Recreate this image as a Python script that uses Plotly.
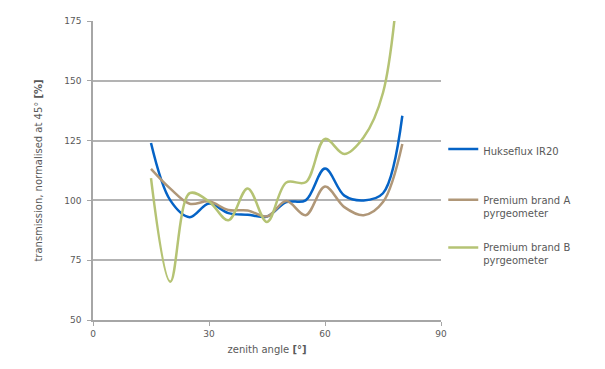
import plotly.graph_objects as go

angles = [15, 20, 25, 30, 35, 40, 45, 50, 55, 60, 65, 70, 75, 80]
hukseflux = [124, 100, 93, 98.7, 94.7, 94, 93.3, 99.3, 100, 113.3, 102, 100, 103, 135.4]
brand_a = [113.2, 104.9, 98.6, 99.6, 96, 95.8, 93.3, 99.7, 93.8, 105.8, 97.2, 93.8, 99.3, 123.6]
brand_b = [109.3, 66, 103, 99.6, 91.7, 105, 91, 107.5, 107.6, 125.7, 119.4, 126.4, 145, 212]

names = ["Hukseflux IR20", "Premium brand A<br>pyrgeometer", "Premium brand B<br>pyrgeometer"]
colors = ["#0563C6", "#B09778", "#B5C374"]
series = [hukseflux, brand_a, brand_b]
legends = ["legend", "legend2", "legend3"]

font = "Verdana, DejaVu Sans, sans-serif"
fig = go.Figure()
for nm, col, ys, lg in zip(names, colors, series, legends):
    fig.add_trace(go.Scatter(x=angles, y=ys, mode="lines", name=nm, showlegend=True,
                             line=dict(color=col, width=2.5, shape="spline", smoothing=1.0),
                             legend=lg))

leg_common = dict(font=dict(family=font, size=10, color="#595959"), bgcolor="rgba(0,0,0,0)",
                  xanchor="left", yanchor="top", valign="top", itemwidth=30,
                  tracegroupgap=0, visible=True)
ys_leg = [0.615, 0.446, 0.286]
layout_legs = {}
for lg, yy in zip(legends, ys_leg):
    layout_legs[lg] = dict(leg_common, x=1.0065, y=yy)

fig.update_layout(
    width=605, height=369,
    showlegend=True,
    margin=dict(l=85, r=172, t=8, b=57),
    paper_bgcolor="white", plot_bgcolor="white",
    font=dict(family=font, size=9, color="#595959"),
    xaxis=dict(range=[0, 90], tickvals=[0, 30, 60, 90], showgrid=False, zeroline=False,
               showline=True, linecolor="#A6A6A6", linewidth=1.5, ticks="outside",
               ticklen=4, tickcolor="#A6A6A6", tickfont=dict(size=9),
               title=dict(text="zenith angle <b>[°]</b>", font=dict(size=10), standoff=8)),
    yaxis=dict(range=[50, 175], tickvals=[50, 75, 100, 125, 150, 175], showgrid=True,
               gridcolor="#B3B3B3", gridwidth=1.5, zeroline=False,
               showline=True, linecolor="#A6A6A6", linewidth=1.5, ticks="outside",
               ticklen=4, tickcolor="#A6A6A6", tickfont=dict(size=9), ticklabelstandoff=4,
               title=dict(text="transmission, normalised at 45° <b>[%]</b>", font=dict(size=10), standoff=20)),
    **layout_legs,
)
fig.write_html("out.html")
